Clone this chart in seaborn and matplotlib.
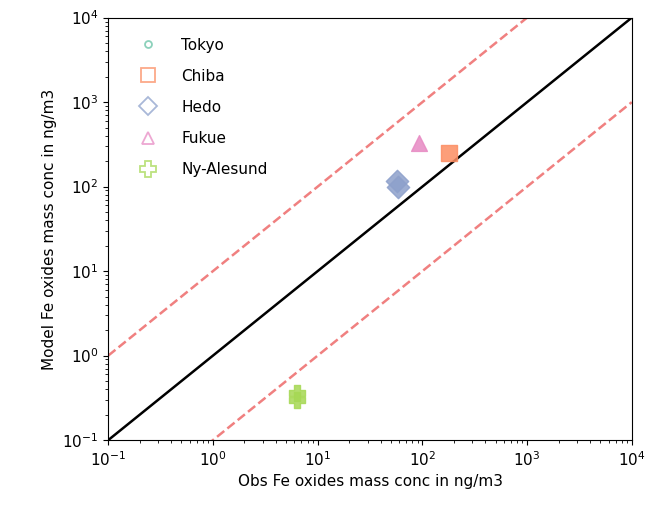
import matplotlib
matplotlib.use("Agg")
import matplotlib.pyplot as plt
import seaborn as sns
import numpy as np
import pandas as pd
from matplotlib.lines import Line2D

sites = ["Tokyo", "Chiba", "Hedo", "Fukue", "Ny-Alesund"]
markers = ["o", "s", "D", "^", "P"]
obs_site = ["Chiba", "Hedo", "Hedo", "Fukue", "Ny-Alesund", "Ny-Alesund"]
obs_vals = [180, 57, 58, 93, 6.4, 6.4]
model_vals = [250, 117, 100, 330, 0.36, 0.30]

sns.set_style("ticks", {"text.color": "black", "axes.labelcolor": "black",
                        "xtick.color": "black", "ytick.color": "black",
                        "axes.edgecolor": "black"})
palette = dict(zip(sites, sns.color_palette("Set2", len(sites))))

df = pd.DataFrame({"site": obs_site, "obs": obs_vals, "model": model_vals})

fig, ax = plt.subplots(figsize=(6.52, 5.19), dpi=100)
fig.subplots_adjust(left=0.166, right=0.969, top=0.966, bottom=0.152)

lim = np.array([1e-1, 1e4])
ax.plot(lim, lim, color="black", lw=1.8, zorder=1)
ax.plot(lim, lim * 10, color="#f08080", lw=1.8, ls="--", zorder=1)
ax.plot(lim, lim / 10, color="#f08080", lw=1.8, ls="--", zorder=1)

for s, m in zip(sites, markers):
    sub = df[df.site == s]
    if len(sub):
        sns.scatterplot(data=sub, x="obs", y="model", marker=m, color=palette[s],
                        s=130, alpha=0.85, edgecolor=palette[s], linewidth=1,
                        ax=ax, zorder=3, legend=False)

ax.set_xscale("log")
ax.set_yscale("log")
ax.set_xlim(lim)
ax.set_ylim(lim)
ax.set_xlabel("Obs Fe oxides mass conc in ng/m3", fontsize=11)
ax.set_ylabel("Model Fe oxides mass conc in ng/m3", fontsize=11)
ax.tick_params(labelsize=11)

sizes = {"o": 5, "s": 10, "D": 9, "^": 9, "P": 11}
handles = [Line2D([], [], ls="none", marker=m, markersize=sizes[m],
                  markerfacecolor="none", markeredgecolor=palette[s],
                  markeredgewidth=1.3, alpha=0.75, label=s)
           for s, m in zip(sites, markers)]
ax.legend(handles=handles, loc="upper left", frameon=False, fontsize=11,
          handletextpad=1.2, labelspacing=1.05, bbox_to_anchor=(0.02, 0.985))

fig.savefig("out.png", dpi=100)
